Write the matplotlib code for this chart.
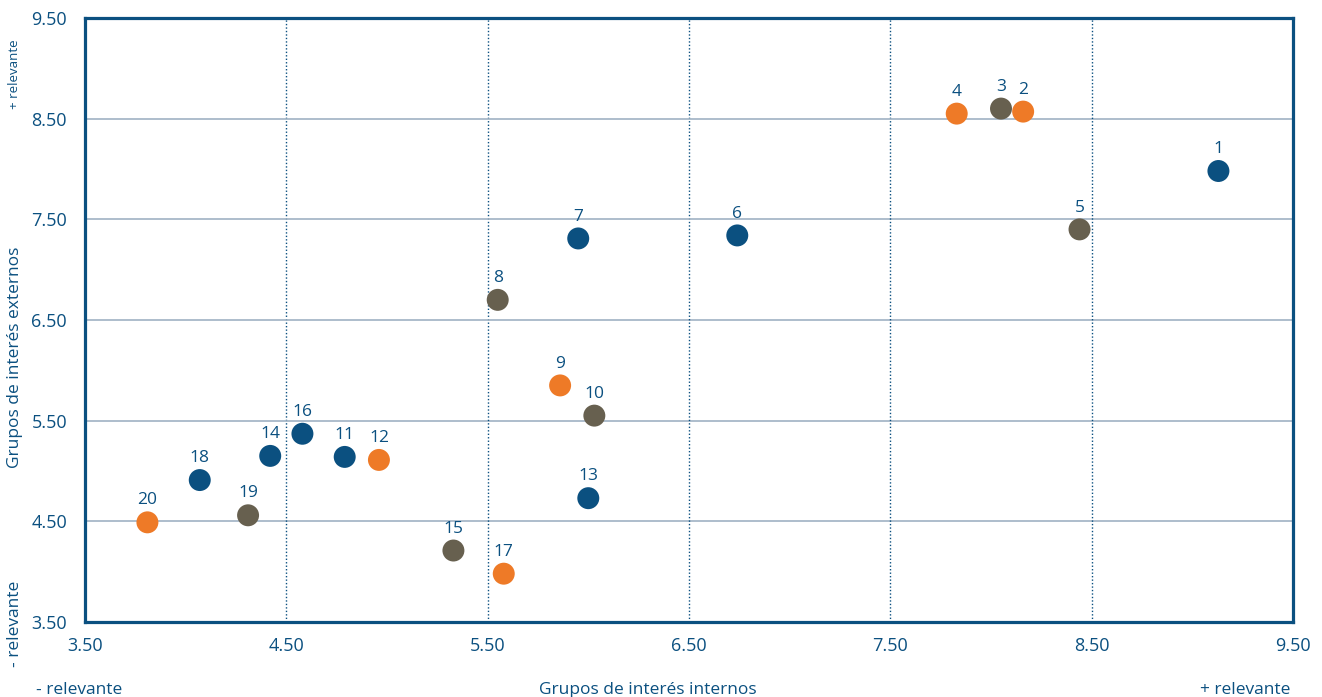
import matplotlib.pyplot as plt
import numpy as np

plt.rcParams['font.family'] = ['Open Sans', 'DejaVu Sans']

# datos
ids = [1, 2, 3, 4, 5, 6, 7, 8, 9, 10, 11, 12, 13, 14, 15, 16, 17, 18, 19, 20]
internos = [9.13, 8.16, 8.05, 7.83, 8.44, 6.74, 5.95, 5.55, 5.86, 6.03,
            4.79, 4.96, 6.00, 4.42, 5.33, 4.58, 5.58, 4.07, 4.31, 3.81]
externos = [7.98, 8.57, 8.60, 8.55, 7.40, 7.34, 7.31, 6.70, 5.85, 5.55,
            5.14, 5.11, 4.73, 5.15, 4.21, 5.37, 3.98, 4.91, 4.56, 4.49]
grupo = ['b', 'o', 'g', 'o', 'g', 'b', 'b', 'g', 'o', 'g',
         'b', 'o', 'b', 'b', 'g', 'b', 'o', 'b', 'g', 'o']

colores = {'b': '#0b5080', 'o': '#ee7a27', 'g': '#67604f'}
azul = '#0b5080'
ticks = [3.5, 4.5, 5.5, 6.5, 7.5, 8.5, 9.5]

fig = plt.figure(figsize=(13.22, 6.97), dpi=100)
ax = fig.add_axes([0.0643, 0.1076, 0.9137, 0.8666])

for t in ticks[1:-1]:
    ax.axhline(t, color='#9fb2c3', lw=1.2, zorder=1)
    ax.axvline(t, color=azul, lw=1.0, ls=(0, (1, 1.5)), zorder=1)

ax.scatter(internos, externos, s=250, c=[colores[g] for g in grupo],
           edgecolors='none', zorder=3)
for i, x, y in zip(ids, internos, externos):
    ax.annotate(str(i), (x, y), xytext=(0, 10), textcoords='offset points',
                ha='center', va='bottom', fontsize=12.5, color=azul)

ax.set_xlim(3.5, 9.5)
ax.set_ylim(3.5, 9.5)
ax.set_xticks(ticks)
ax.set_yticks(ticks)
ax.set_xticklabels([f'{t:.2f}' for t in ticks])
ax.set_yticklabels([f'{t:.2f}' for t in ticks])
ax.tick_params(length=0, labelsize=13, labelcolor=azul, pad=11)
ax.tick_params(axis='y', pad=13)
for s in ax.spines.values():
    s.set_color(azul)
    s.set_linewidth(2.3)

fig.text(0.49, -0.002, 'Grupos de interés internos', ha='center', va='bottom',
         fontsize=12.5, color=azul)
fig.text(0.06, -0.002, '- relevante', ha='center', va='bottom', fontsize=12.5, color=azul)
fig.text(0.942, -0.002, '+ relevante', ha='center', va='bottom', fontsize=12.5, color=azul)
fig.text(0.011, 0.488, 'Grupos de interés externos', rotation=90, ha='center',
         va='center', fontsize=12.5, color=azul)
fig.text(0.011, 0.893, '+ relevante', rotation=90, ha='center', va='center',
         fontsize=9.5, color=azul)
fig.text(0.011, 0.105, '- relevante', rotation=90, ha='center', va='center',
         fontsize=12.5, color=azul)

fig.savefig('out.png', dpi=100)
